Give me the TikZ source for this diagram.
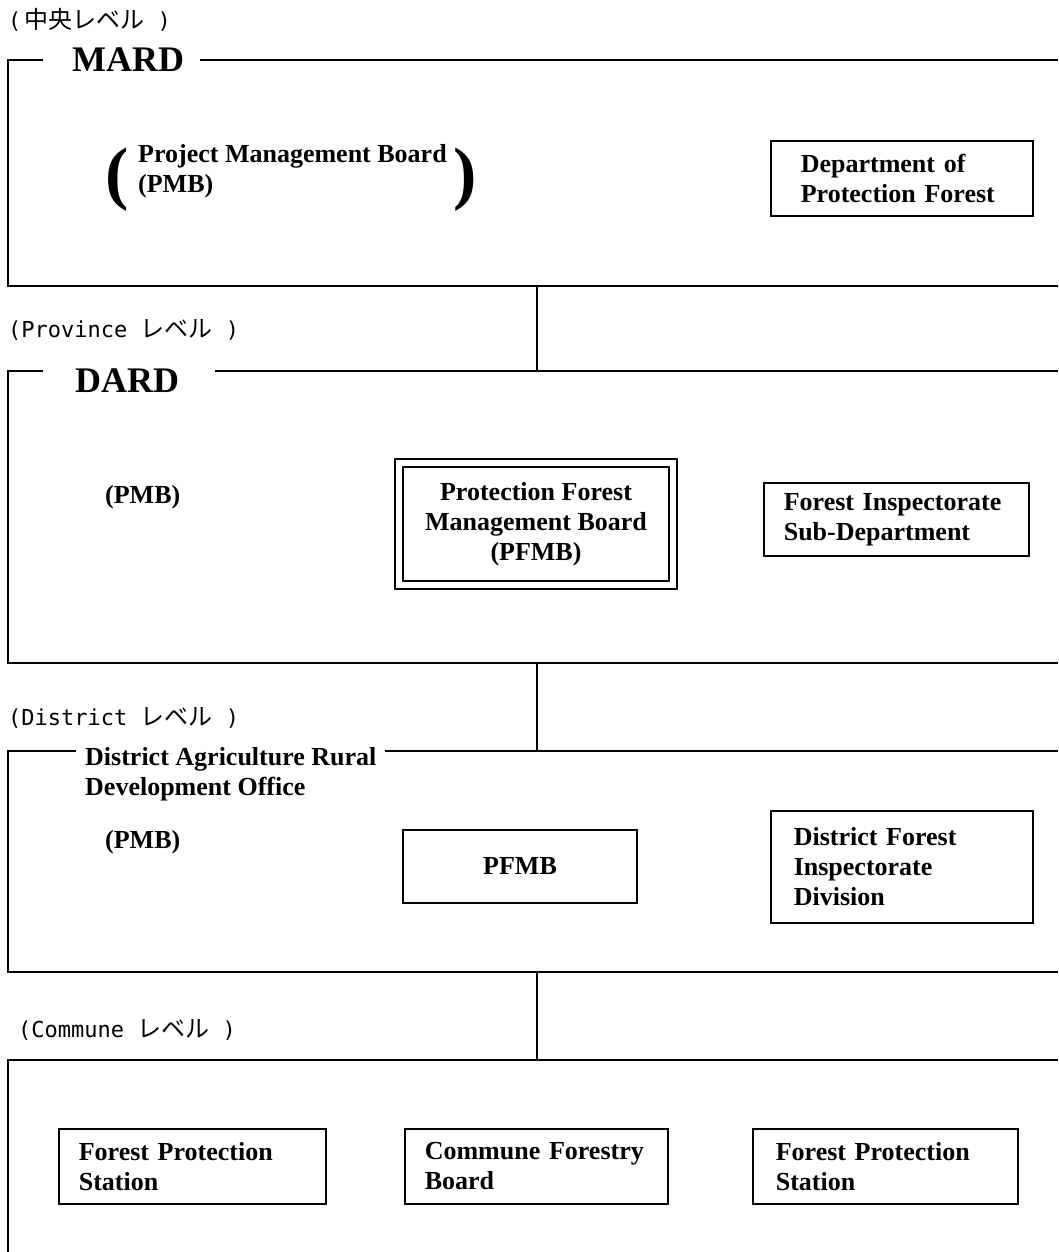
\documentclass[tikz,border=0pt]{standalone}
\usepackage{fontspec}
\setmainfont{Liberation Serif}
\newfontfamily\jp{Noto Sans CJK JP}
\newfontfamily\lab{DejaVu Sans Mono}
\newcommand{\jpt}[1]{{\jp\fontsize{24}{26}\selectfont #1}}
\begin{document}
\begin{tikzpicture}[x=1pt,y=-1pt,
  frame/.style={line width=2pt},
  conn/.style={line width=1.4pt},
  box/.style={draw, line width=1.6pt, inner ysep=0pt,
    font=\bfseries\fontsize{26}{30}\selectfont},
  lvl/.style={anchor=west, inner sep=0pt, font=\lab\fontsize{22}{26}\selectfont},
  title/.style={anchor=west, inner sep=0pt, font=\bfseries\fontsize{36}{40}\selectfont},
  txt/.style={anchor=west, inner sep=0pt, align=left,
    font=\bfseries\fontsize{26}{30}\selectfont},
  paren/.style={anchor=west, inner sep=0pt, font=\bfseries\fontsize{70}{72}\selectfont}]
\useasboundingbox (0,0) rectangle (1058,1252);

% ---------- level 1 : MARD ----------
\node[lvl] (lv1) at (8,20) {(\hspace{3pt}\jpt{中央レベル} )};
\node[title] (mard) at (72,60) {MARD};
\draw[frame] (43,60) -- (8,60) -- (8,286) -- (1058,286);
\draw[frame] (200,60) -- (1058,60);
\node[paren] (lp) at (105,180) {(};
\node[txt] (pmb1a) at (138,156) {Project Management Board};
\node[txt] (pmb1b) at (138,186) {(PMB)};
\node[paren] (rp) at (453,180) {)};
\node[box, anchor=north west, text width=202pt, inner xsep=30pt,
  minimum height=75pt, align=left] (dpf) at (770,140) {Department of\\Protection Forest};

\coordinate (mbot) at (537,286);
\coordinate (dtop) at (537,371);
\draw[conn] (mbot) -- (dtop);

% ---------- level 2 : DARD ----------
\node[lvl] (lv2) at (8,330) {(Province \jpt{レベル} )};
\node[title] (dard) at (75,381) {DARD};
\draw[frame] (43,371) -- (8,371) -- (8,663) -- (1058,663);
\draw[frame] (215,371) -- (1058,371);
\node[txt] (pmb2) at (105,497) {(PMB)};
\node[box, double, double distance=6.4pt, minimum width=274pt, minimum height=122pt,
  align=center] (pfmb) at (536,524) {Protection Forest\\Management Board\\(PFMB)};
\node[box, anchor=north west, text width=225pt, inner xsep=20pt,
  minimum height=73pt, align=left] (fisd) at (763,482) {Forest Inspectorate\\Sub-Department};

\coordinate (dbot) at (537,663);
\coordinate (ttop) at (537,751);
\draw[conn] (dbot) -- (ttop);

% ---------- level 3 : District ----------
\node[lvl] (lv3) at (8,718) {(District \jpt{レベル} )};
\node[txt] (darpo) at (85,774) {District Agriculture Rural\\Development Office};
\draw[frame] (76,751) -- (8,751) -- (8,972) -- (1058,972);
\draw[frame] (385,751) -- (1058,751);
\node[txt] (pmb3) at (105,842) {(PMB)};
\node[box, minimum width=234pt, minimum height=73pt] (pfmb2) at (520,866.5) {PFMB};
\node[box, anchor=north west, text width=216pt, inner xsep=23pt,
  minimum height=112pt, align=left] (dfid) at (770,810) {District Forest\\Inspectorate\\Division};

\coordinate (tbot) at (537,972);
\coordinate (ctop) at (537,1060);
\draw[conn] (tbot) -- (ctop);

% ---------- level 4 : Commune ----------
\node[lvl] (lv4) at (18,1030) {(Commune \jpt{レベル} )};
\draw[frame] (8,1252) -- (8,1060) -- (1058,1060);
\node[box, anchor=north west, text width=227pt, inner xsep=20pt,
  minimum height=75pt, align=left] (fps1) at (58,1128) {Forest Protection\\Station};
\node[box, anchor=north west, text width=223pt, inner xsep=20pt,
  minimum height=75pt, align=left] (cfb) at (404,1128) {Commune Forestry\\Board};
\node[box, anchor=north west, text width=219pt, inner xsep=23pt,
  minimum height=75pt, align=left] (fps2) at (752,1128) {Forest Protection\\Station};
\end{tikzpicture}
\end{document}
